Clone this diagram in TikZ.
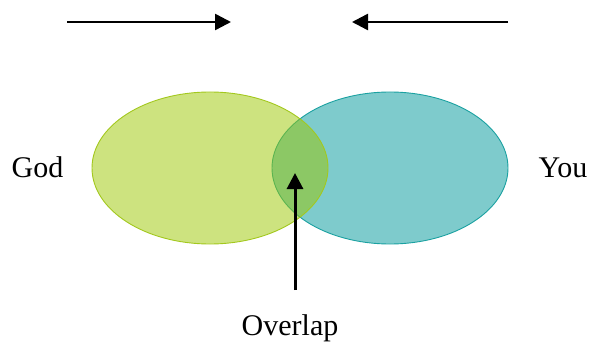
\documentclass[tikz,border=0pt]{standalone}
\usepackage{fontspec}
\setmainfont{Liberation Serif}
\usetikzlibrary{shapes.geometric,arrows.meta}
\definecolor{godfill}{RGB}{155,199,0}
\definecolor{godline}{RGB}{163,200,30}
\definecolor{youfill}{RGB}{126,203,204}
\definecolor{youline}{RGB}{27,161,161}

\begin{document}
\begin{tikzpicture}[x=1pt,y=-1pt,>={Triangle[length=16pt,width=16pt]},thick,
  set node/.style={ellipse,minimum width=236pt,minimum height=152pt,inner sep=0pt,line width=0.9pt},
  word node/.style={font=\fontsize{30}{36}\selectfont,inner sep=0pt,anchor=base}]

            \useasboundingbox (0,0) rectangle (591,342);

            \node[set node, draw=youline, fill=youfill] (you) at (390,168){};
            \node[set node, draw=godline, fill=godfill, fill opacity=0.5] (god) at (210,168){};

            \node[word node] (godtext) at (37.5,177){God};
            \node[word node] (youtext) at (563,177){You};
            \node[word node] (overlap) at (290,335){Overlap};

            \coordinate (a1) at (67,22);
            \coordinate (a2) at (231,22);
            \coordinate (b1) at (508,22);
            \coordinate (b2) at (352,22);
            \coordinate (c1) at (295,290);
            \coordinate (c2) at (295,173);

            \draw[->, line width=2.5pt] (a1) to (a2);
            \draw[->, line width=2.5pt] (b1) to (b2);
            \draw[->, line width=3pt] (c1) to (c2);

            ;
        \end{tikzpicture}
\end{document}
